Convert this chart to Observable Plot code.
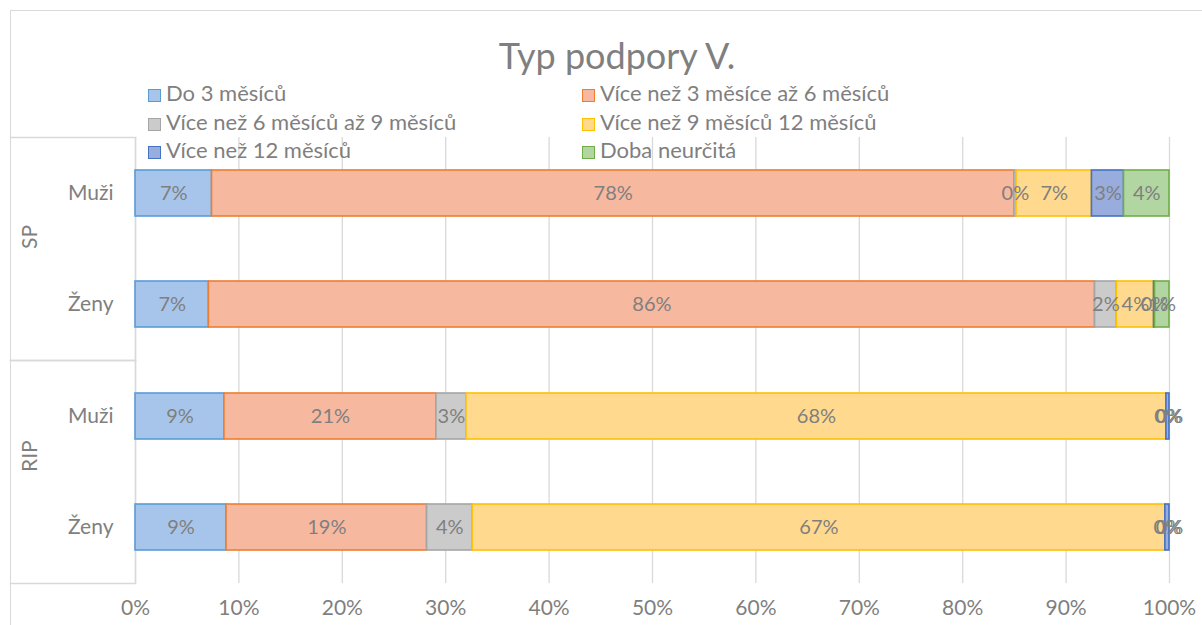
<!DOCTYPE html>
<html>
<head>
<meta charset="utf-8">
<script src="https://cdn.jsdelivr.net/npm/d3@7"></script>
<script src="https://cdn.jsdelivr.net/npm/@observablehq/plot@0.6"></script>
<style>
  html, body { margin: 0; padding: 0; background: #fff; }
  #wrap { position: relative; width: 1202px; height: 625px; overflow: hidden; font-family: Lato, "Open Sans", sans-serif; }
  #border { position: absolute; left: 10px; top: 10px; width: 1300px; height: 700px; border-left: 1.5px solid #d9d9d9; border-top: 1.5px solid #d9d9d9; pointer-events: none; }
  #title { position: absolute; left: 0; width: 1234px; top: 35px; line-height: 40px; text-align: center; font-size: 36px; color: #7f7f7f; }
  .leg { position: absolute; font-size: 22px; color: #7f7f7f; white-space: nowrap; line-height: 24px; }
  .leg span.sw { display: inline-block; width: 13px; height: 13px; margin-right: 5px; vertical-align: -1px; box-sizing: border-box; border: 1.5px solid; }
  #chart { position: absolute; left: 0; top: 0; }
</style>
</head>
<body>
<div id="wrap">
  <div id="chart"></div>
  <div id="border"></div>
  <div id="title"></div>
  <div id="legend"></div>
</div>
<script>
// ---- data ----
const groups = ["SP", "SP", "RIP", "RIP"];
const sexes = ["Muži", "Ženy", "Muži", "Ženy"];
const series = [
  "Do 3 měsíců",
  "Více než 3 měsíce až 6 měsíců",
  "Více než 6 měsíců až 9 měsíců",
  "Více než 9 měsíců 12 měsíců",
  "Více než 12 měsíců",
  "Doba neurčitá"
];
const do3 = [7.4, 7.1, 8.6, 8.8];
const m3to6 = [77.6, 85.7, 20.5, 19.4];
const m6to9 = [0.2, 2.1, 2.9, 4.4];
const m9to12 = [7.3, 3.6, 67.7, 67.0];
const over12 = [3.1, 0.1, 0.3, 0.4];
const indefinite = [4.4, 1.4, 0.0, 0.0];
const xTicks = [0, 0.1, 0.2, 0.3, 0.4, 0.5, 0.6, 0.7, 0.8, 0.9, 1.0];
const groupLabels = ["SP", "RIP"];
const sexLabels = ["Muži", "Ženy"];

const fills = ["#a7c5ea", "#f7b8a0", "#cbcbcb", "#ffd98e", "#98acdd", "#b2d6a2"];
const strokes = ["#5b9bd5", "#ed7d31", "#a5a5a5", "#ffc000", "#4472c4", "#70ad47"];

const seriesValues = [do3, m3to6, m6to9, m9to12, over12, indefinite];
const table = [];
seriesValues.forEach((vals, si) => {
  vals.forEach((v, ri) => {
    table.push({group: groups[ri], sex: sexes[ri], cat: series[si], ci: si, value: v / 100});
  });
});

const textColor = "#7f7f7f";

const plot = Plot.plot({
  width: 1202,
  height: 625,
  marginLeft: 135,
  marginRight: 33,
  marginTop: 137,
  marginBottom: 42,
  style: {fontFamily: "Lato, 'Open Sans', sans-serif", fontSize: "21px", color: textColor, background: "transparent"},
  x: {domain: [0, 1], ticks: xTicks, tickFormat: d => Math.round(d * 100) + "%", tickSize: 0, tickPadding: 17, label: null},
  y: {domain: sexLabels, paddingInner: 0.59, paddingOuter: 0.295, tickSize: 0, tickPadding: 22, label: null},
  fy: {domain: groupLabels, padding: 0, axis: null, label: null},
  color: {type: "identity"},
  marks: [
    Plot.gridX(xTicks, {stroke: "#d9d9d9", strokeOpacity: 1, strokeWidth: 1.3}),
    Plot.frame({anchor: "top", stroke: "#d9d9d9", strokeWidth: 1.5, insetLeft: -125, insetRight: 1034}),
    Plot.frame({anchor: "bottom", stroke: "#d9d9d9", strokeWidth: 1.5, insetLeft: -125, insetRight: 1034}),
    Plot.ruleX([0], {stroke: "#d9d9d9", strokeWidth: 1.5}),
    Plot.barX(table, Plot.stackX({
      x: "value", y: "sex", fy: "group", order: null,
      fill: d => fills[d.ci], stroke: d => strokes[d.ci], strokeWidth: 1.6,
      filter: d => d.value > 0
    })),
    Plot.text(table, Plot.stackX({
      x: "value", y: "sex", fy: "group", order: null,
      text: d => Math.round(d.value * 100) + "%",
      fill: textColor, fontSize: 20
    })),
    Plot.text(groupLabels, {fy: d => d, text: d => d, frameAnchor: "left", dx: -105, rotate: -90, fill: textColor, fontSize: 21})
  ]
});
document.getElementById("chart").appendChild(plot);

document.getElementById("title").textContent = "Typ podpory V.";

const legend = document.getElementById("legend");
const legCols = [148, 582];
const legRows = [81, 110, 138];
series.forEach((s, i) => {
  const d = document.createElement("div");
  d.className = "leg";
  d.style.left = legCols[i % 2] + "px";
  d.style.top = legRows[Math.floor(i / 2)] + "px";
  const sw = document.createElement("span");
  sw.className = "sw";
  sw.style.background = fills[i];
  sw.style.borderColor = strokes[i];
  d.appendChild(sw);
  d.appendChild(document.createTextNode(s));
  legend.appendChild(d);
});
</script>
</body>
</html>
